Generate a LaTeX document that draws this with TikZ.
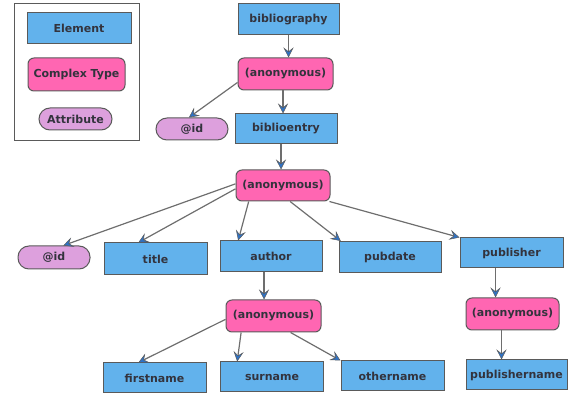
\documentclass[tikz,border=0pt]{standalone}
\usepackage{fontspec}
\setmainfont{DejaVu Sans}
\usetikzlibrary{arrows.meta}
\definecolor{elemblue}{HTML}{62B2EC}
\definecolor{cplxpink}{HTML}{FF66B2}
\definecolor{attrlilac}{HTML}{DDA0DD}
\definecolor{edgegray}{HTML}{5A5A5A}
\definecolor{linegray}{HTML}{6E6E6E}
\definecolor{tipblue}{HTML}{2F72C4}
\definecolor{textgray}{HTML}{33333D}
\begin{document}
\begin{tikzpicture}[x=1pt,y=-1pt,
  box/.style={draw=edgegray,line width=1pt,text=textgray,inner sep=0pt,
    font=\fontsize{11}{13}\selectfont\bfseries},
  elem/.style={box,fill=elemblue,minimum width=102pt,minimum height=31pt},
  cplx/.style={box,fill=cplxpink,rounded corners=6pt,minimum width=94pt,minimum height=32pt},
  attr/.style={box,fill=attrlilac,rounded corners=11pt,minimum width=72pt,minimum height=22pt},
  arr/.style={draw=linegray,line width=1.2pt,
    -{Stealth[color=edgegray,fill=tipblue,length=10pt,width=10pt,inset=4pt,line width=0.5pt]}}]
\useasboundingbox (0,0) rectangle (568,395);
% legend
\draw[edgegray,line width=1pt] (14,4) rectangle (139,141);
\node[elem,minimum width=104pt] (legElem) at (79,28.5) {Element};
\node[cplx,minimum width=97pt,minimum height=33pt] (legCplx) at (76.5,74.5) {Complex Type};
\node[attr,minimum width=73pt] (legAttr) at (75.5,119) {Attribute};
% nodes
\node[elem,minimum width=101pt] (bib) at (288.5,19.5) {bibliography};
\node[cplx,minimum width=95pt] (anA) at (285.5,74) {(anonymous)};
\node[attr] (idA) at (192,129) {@id};
\node[elem,minimum height=30pt] (bentry) at (286,129) {biblioentry};
\node[cplx,minimum height=31pt] (anB) at (283,185.5) {(anonymous)};
\node[attr,minimum height=23pt] (idB) at (54,257.5) {@id};
\node[elem,minimum width=103pt,minimum height=32pt] (title) at (155.5,259) {title};
\node[elem] (author) at (271,256.5) {author};
\node[elem] (pubdate) at (390,257) {pubdate};
\node[elem,minimum width=103pt,minimum height=30pt] (publisher) at (511.5,253) {publisher};
\node[cplx,minimum width=95pt] (anC) at (273.5,316) {(anonymous)};
\node[cplx,minimum width=93pt] (anD) at (512.5,314) {(anonymous)};
\node[elem,minimum width=103pt,minimum height=30pt] (first) at (154.5,378) {firstname};
\node[elem,minimum width=103pt,minimum height=30pt] (sur) at (272,377) {surname};
\node[elem,minimum width=103pt,minimum height=30pt] (other) at (392.5,376) {othername};
\node[elem,minimum width=101pt,minimum height=30pt] (pubname) at (516.5,375) {publishername};
% connectors
\draw[arr] (bib.south) -- (bib.south |- anA.north);
\draw[arr] (anA.190) -- (idA.105);
\draw[arr] ([xshift=-2.5pt]anA.south) -- ([xshift=-3pt]bentry.north);
\draw[arr] ([xshift=-5pt]bentry.south) -- ([xshift=-2pt]anB.north);
\draw[arr] (anB.178) -- (idB.52);
\draw[arr] (anB.184) -- (title.136);
\draw[arr] (anB.205) -- (author.154);
\draw[arr] (anB.294) -- (pubdate.162);
\draw[arr] (anB.341) -- (publisher.north west);
\draw[arr] ([xshift=-7pt]author.south) -- ([xshift=-9.5pt]anC.north);
\draw[arr] (anC.184) -- (first.136);
\draw[arr] (anC.207) -- (sur.156);
\draw[arr] (anC.316) -- (other.north west);
\draw[arr] ([xshift=-16pt]publisher.south) -- ([xshift=-17pt]anD.north);
\draw[arr] ([xshift=-11pt]anD.south) -- ([xshift=-15pt]pubname.north);
\end{tikzpicture}
\end{document}
